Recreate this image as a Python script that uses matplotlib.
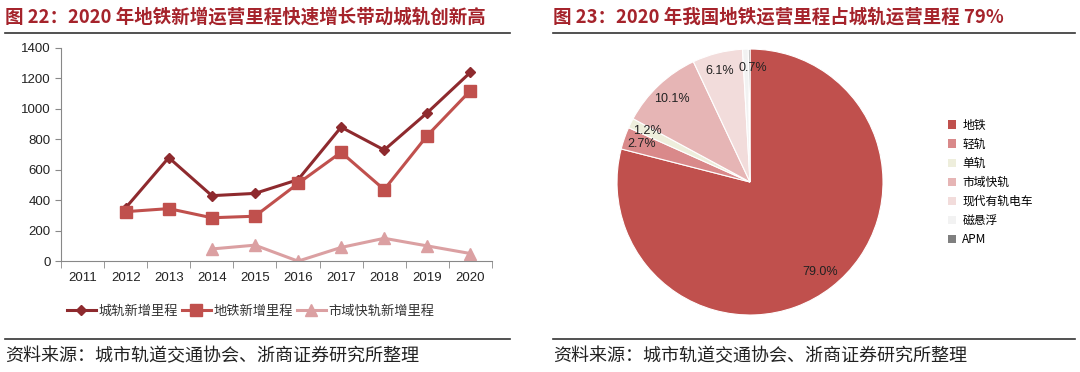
import numpy as np
import matplotlib.pyplot as plt
from matplotlib.lines import Line2D
from matplotlib.patches import Patch

plt.rcParams['font.family'] = ['Liberation Sans', 'Noto Sans CJK SC', 'DejaVu Sans']

# 折线图数据
years = ['2011', '2012', '2013', '2014', '2015', '2016', '2017', '2018', '2019', '2020']
urban_rail = [np.nan, 350, 680, 430, 445, 535, 880, 730, 975, 1240]
metro = [np.nan, 325, 345, 285, 295, 510, 715, 470, 825, 1120]
suburban = [np.nan, np.nan, np.nan, 80, 105, 0, 90, 150, 100, 50]
line_names = ['城轨新增里程', '地铁新增里程', '市域快轨新增里程']

# 饼图数据
pie_labels = ['地铁', '轻轨', '单轨', '市域快轨', '现代有轨电车', '磁悬浮', 'APM']
pie_values = [79.0, 2.7, 1.2, 10.1, 6.1, 0.7, 0.2]
pie_colors = ['#C0504D', '#D9898A', '#EEEEDC', '#E6B5B5', '#F2DCDB', '#F2F2F2', '#7F7F7F']

title_color = '#A5232B'
cjk = ['Noto Sans CJK SC', 'DejaVu Sans']

fig = plt.figure(figsize=(10.8, 3.72), dpi=100)

# 标题与分隔线
fig.text(0.005, 0.953, '图 22：2020 年地铁新增运营里程快速增长带动城轨创新高',
         color=title_color, fontsize=13.3, fontweight='bold', va='center', family=cjk)
fig.text(0.512, 0.953, '图 23：2020 年我国地铁运营里程占城轨运营里程 79%',
         color=title_color, fontsize=13.3, fontweight='bold', va='center', family=cjk)
for x0, x1 in [(0.005, 0.472), (0.512, 0.995)]:
    fig.add_artist(Line2D([x0, x1], [0.912, 0.912], color='#333333', lw=1.2))
    fig.add_artist(Line2D([x0, x1], [0.088, 0.088], color='#333333', lw=1.2))
fig.text(0.005, 0.043, '资料来源：城市轨道交通协会、浙商证券研究所整理',
         fontsize=13, va='center', color='#222222', family=cjk)
fig.text(0.512, 0.043, '资料来源：城市轨道交通协会、浙商证券研究所整理',
         fontsize=13, va='center', color='#222222', family=cjk)

# 左图：折线
ax = fig.add_axes([0.0565, 0.298, 0.399, 0.573])
x = np.arange(len(years))
ax.plot(x, urban_rail, color='#8E2A2E', lw=2.2, marker='D', ms=5.5, label=line_names[0])
ax.plot(x, metro, color='#C0504D', lw=2.2, marker='s', ms=8.5, label=line_names[1])
ax.plot(x, suburban, color='#DBA0A2', lw=2.2, marker='^', ms=8.5, label=line_names[2])
ax.set_xlim(-0.5, 9.5)
ax.set_ylim(0, 1400)
ax.set_yticks(range(0, 1401, 200))
ax.set_xticks(x)
ax.set_xticklabels(years)
ax.set_xticks(np.arange(-0.5, 10, 1), minor=True)
ax.tick_params(axis='x', which='major', length=0, pad=8, labelsize=9.5, colors='#222222')
ax.tick_params(axis='x', which='minor', length=5, color='#888888')
ax.tick_params(axis='y', length=4, color='#888888', labelsize=9.5, labelcolor='#222222')
for s in ['top', 'right']:
    ax.spines[s].set_visible(False)
for s in ['left', 'bottom']:
    ax.spines[s].set_color('#888888')
leg = ax.legend(loc='upper center', bbox_to_anchor=(0.44, -0.15), ncol=3, frameon=False,
                handlelength=2.2, handletextpad=0.2, columnspacing=0.3,
                prop={'family': cjk, 'size': 9.5})
for t in leg.get_texts():
    t.set_color('#333333')

# 右图：饼图
ax2 = fig.add_axes([0.5713, 0.1532, 0.2463, 0.715])
wedges, texts, autotexts = ax2.pie(
    pie_values, colors=pie_colors, startangle=90, counterclock=False,
    autopct=lambda p: f'{p:.1f}%' if p >= 0.5 else '', pctdistance=0.86,
    wedgeprops={'edgecolor': 'white', 'linewidth': 0.8},
    textprops={'fontsize': 9, 'color': '#222222'})
# 小扇区标签稍作错开
px, py = autotexts[5].get_position()
autotexts[5].set_position((px + 0.05, py))
px, py = autotexts[4].get_position()
autotexts[4].set_position((px - 0.02, py))
ax2.set_xlim(-1, 1)
ax2.set_ylim(-1, 1)
ax2.set_aspect('equal')

handles = [Patch(facecolor=c, edgecolor='none') for c in pie_colors]
fig.legend(handles, pie_labels, loc='upper left', bbox_to_anchor=(0.868, 0.71),
           frameon=False, handlelength=0.7, handleheight=0.7, handletextpad=0.5,
           labelspacing=0.52, prop={'family': cjk, 'size': 8.5})

fig.savefig('out.png', dpi=100)
